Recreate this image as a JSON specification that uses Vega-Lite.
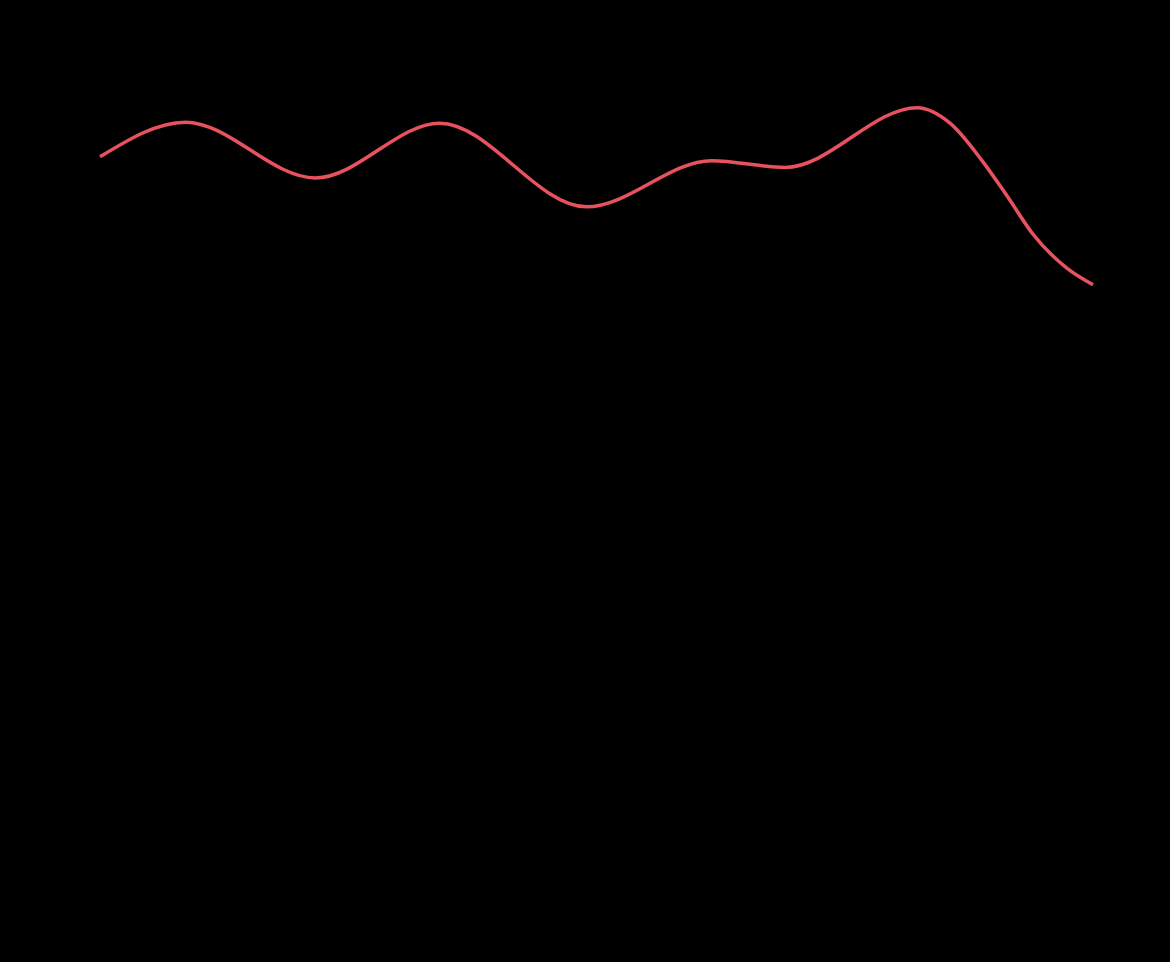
{
  "$schema": "https://vega.github.io/schema/vega-lite/v6.json",
  "width": 993,
  "height": 962,
  "autosize": "none",
  "padding": {"left": 100, "top": 0, "right": 77, "bottom": 0},
  "background": "black",
  "config": {"view": {"stroke": null}},
  "data": {
    "values": [
      {"t": 0, "value": 83.7},
      {"t": 8.6, "value": 87.3},
      {"t": 21.7, "value": 81.5},
      {"t": 34.2, "value": 87.2},
      {"t": 49.0, "value": 78.5},
      {"t": 61.6, "value": 83.3},
      {"t": 69.0, "value": 82.6},
      {"t": 82.3, "value": 88.8},
      {"t": 85.6, "value": 87.2},
      {"t": 88.9, "value": 83.2},
      {"t": 91.3, "value": 79.7},
      {"t": 94.0, "value": 75.6},
      {"t": 97.4, "value": 72.1},
      {"t": 100, "value": 70.4}
    ]
  },
  "mark": {"type": "line", "interpolate": "monotone", "color": "#e8525f", "strokeWidth": 3.5},
  "encoding": {
    "x": {"field": "t", "type": "quantitative", "scale": {"domain": [0, 100], "nice": false}, "axis": null},
    "y": {"field": "value", "type": "quantitative", "scale": {"domain": [0, 100], "nice": false}, "axis": null}
  }
}
